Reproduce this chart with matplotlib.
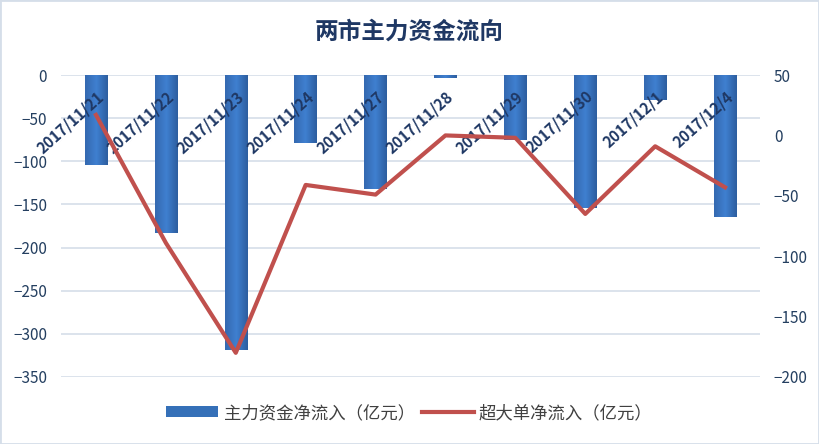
import numpy as np
import matplotlib
matplotlib.use("Agg")
import matplotlib.pyplot as plt
from matplotlib.colors import LinearSegmentedColormap

plt.rcParams['font.family'] = ['Noto Sans CJK SC', 'DejaVu Sans']

dates = ["2017/11/21", "2017/11/22", "2017/11/23", "2017/11/24", "2017/11/27",
         "2017/11/28", "2017/11/29", "2017/11/30", "2017/12/1", "2017/12/4"]
main_flow = [-104, -183, -319, -79, -132, -3, -75, -154, -29, -165]
super_flow = [17, -89, -180, -41, -49, 0, -2, -65, -9, -43]

navy = "#1F3864"
grid_c = "#D5DEE9"

fig = plt.figure(figsize=(8.19, 4.44), dpi=100)
ax = fig.add_axes([0.0745, 0.151, 0.8535, 0.68])
ax2 = ax.twinx()

x = np.arange(len(dates))
bars = ax.bar(x, main_flow, width=0.32, color="#3570B8", label="主力资金净流入（亿元）", zorder=2)

# soft gradient fill inside each bar
cmap = LinearSegmentedColormap.from_list("bar", ["#3469B0", "#3F80D0", "#2D5E9F"])
grad = np.tile(np.linspace(0, 1, 64), (64, 1))
for b in bars:
    x0, y0 = b.get_x(), b.get_y()
    w, h = b.get_width(), b.get_height()
    im = ax.imshow(grad, cmap=cmap, aspect="auto", zorder=2.1,
                   extent=[x0, x0 + w, y0, y0 + h], interpolation="bilinear")
    im.set_clip_path(b)
ax.set_aspect("auto")

line, = ax2.plot(x, super_flow, color="#C0504D", lw=3, label="超大单净流入（亿元）", zorder=3)

ax.set_xlim(-0.5, len(dates) - 0.5)
ax.set_ylim(-350, 0)
ax2.set_ylim(-200, 50)
ax.set_yticks(np.arange(-350, 1, 50))
ax2.set_yticks(np.arange(-200, 51, 50))
ax.grid(axis="y", color=grid_c, lw=1.2, zorder=0)
ax.set_axisbelow(True)
ax.set_xticks([])
for a in (ax, ax2):
    for s in a.spines.values():
        s.set_visible(False)
    a.tick_params(length=0, labelsize=11, labelcolor="#243F60")
ax.tick_params(axis="y", pad=10)
ax2.tick_params(axis="y", pad=10)

ax2.set_zorder(ax.get_zorder() + 1)
ax2.patch.set_visible(False)

for i, d in enumerate(dates):
    ax.text(i + 0.08, -22, d, rotation=42, rotation_mode="anchor", ha="right", va="center",
            fontsize=11, fontweight="bold", color=navy, zorder=5)

fig.text(0.5, 0.928, "两市主力资金流向", ha="center", va="center", fontsize=17,
         fontweight="bold", color=navy)

fig.legend([bars, line], ["主力资金净流入（亿元）", "超大单净流入（亿元）"], loc="center",
           bbox_to_anchor=(0.5, 0.07), ncol=2, frameon=False, fontsize=12.5,
           handlelength=3.0, handleheight=0.6, columnspacing=0.4, handletextpad=0.3,
           labelcolor="#404040")

fig.patches.append(plt.Rectangle((0, 0), 1, 1, transform=fig.transFigure, fill=False,
                                 edgecolor="#D5DEE9", lw=2))

fig.savefig("out.png", dpi=100)
